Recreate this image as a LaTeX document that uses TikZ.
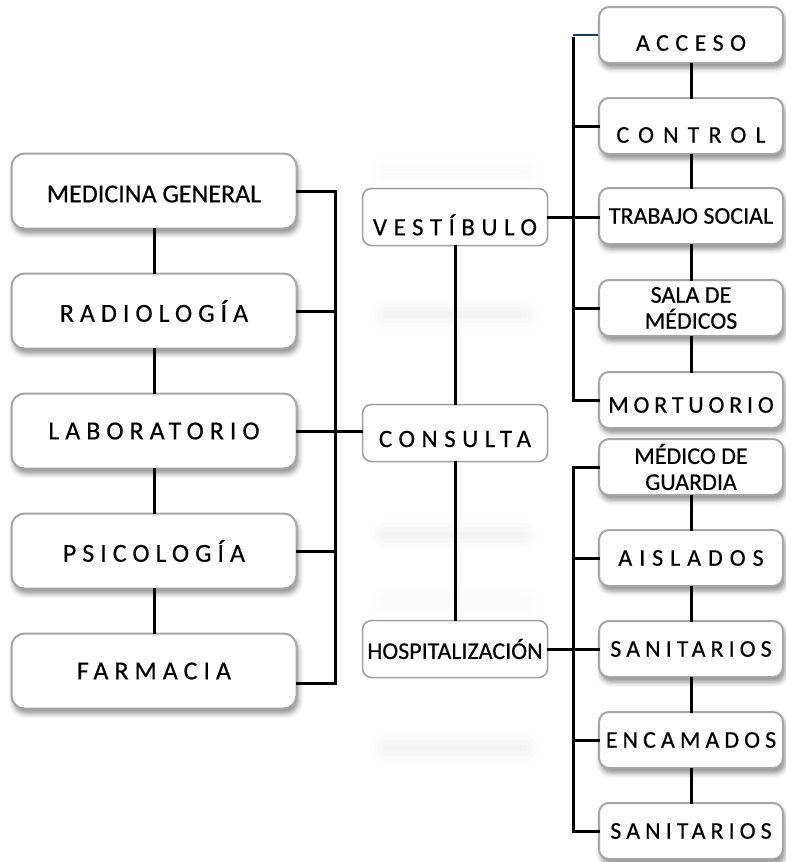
\documentclass[tikz,border=0pt]{standalone}
\usepackage{fontspec}
\setmainfont{Carlito}[UprightFeatures={FakeBold=0.4}]
\usetikzlibrary{shadows.blur,calc}
\definecolor{navy}{RGB}{31,56,100}

\newcommand{\spc}[2][23]{{\addfontfeatures{LetterSpace=#1}#2}}
\newcommand{\low}[2]{\raisebox{-#1}[\height][\depth]{#2}}

\begin{document}
\begin{tikzpicture}[x=1pt,y=-1pt,
    area/.style={draw=gray!70, line width=2pt, fill=white, inner sep=2pt,
      blur shadow={shadow xshift=2pt, shadow yshift=-5pt, shadow blur radius=5pt, shadow opacity=45}},
    lbox/.style={area, rounded corners=13pt, minimum width=285pt, minimum height=75pt,
      font=\fontsize{26}{30}\selectfont},
    mbox/.style={draw=gray!75, line width=1.5pt, fill=white, rounded corners=9pt,
      minimum width=185pt, minimum height=57pt, inner sep=2pt, font=\fontsize{25}{30}\selectfont},
    rbox/.style={area, rounded corners=10pt, minimum width=184pt, minimum height=56pt,
      font=\fontsize{24}{26}\selectfont},
    link/.style={line width=3pt, line cap=rect},
    ghost/.style={blur shadow={shadow xshift=0pt, shadow yshift=0pt, shadow blur radius=16pt, shadow opacity=#1}}]
    \useasboundingbox (0,0) rectangle (785,862);

    % faint bands in the middle column
    \foreach \y/\o in {172/4,315/9,535/9,602/4,748/9}
      \path[ghost=\o] (385,\y-1) rectangle (525,\y+1);

    % left column
    \node[lbox] (med) at (154,191) {\low{3pt}{MEDICINA GENERAL}};
    \node[lbox] (rad) at (154,311) {\spc{RADIOLOGÍA}};
    \node[lbox] (lab) at (154,431) {\spc{LABORATORIO}};
    \node[lbox] (psi) at (154,551) {\spc{PSICOLOGÍA}};
    \node[lbox] (far) at (154,671) {\spc{FARMACIA}};

    % middle column
    \node[mbox] (ves) at (455,217) {\low{8pt}{\spc[26]{VESTÍBULO}}};
    \node[mbox] (con) at (455,433) {\low{6pt}{\spc[26]{CONSULTA}}};
    \node[mbox, font=\fontsize{24}{26}\selectfont] (hos) at (455,649) {HOSPITALIZACIÓN};

    % right column
    \node[rbox] (acc) at (691,35) {\low{8pt}{\spc[27]{ACCESO}}};
    \node[rbox] (ctl) at (691,126) {\low{9pt}{\spc[38]{CONTROL}}};
    \node[rbox] (tra) at (691,216) {TRABAJO SOCIAL};
    \node[rbox, align=center] (sal) at (691,308) {SALA DE\\MÉDICOS};
    \node[rbox] (mor) at (691,400) {\low{5pt}{\spc[20]{MORTUORIO}}};
    \node[rbox, align=center] (gua) at (691,467) {MÉDICO DE\\GUARDIA};
    \node[rbox] (ais) at (691,558) {\spc[29]{AISLADOS}};
    \node[rbox] (san1) at (691,649) {\spc[21]{SANITARIOS}};
    \node[rbox] (enc) at (691,740) {\spc[21]{ENCAMADOS}};
    \node[rbox] (san2) at (691,831) {\spc[21]{SANITARIOS}};

    % chains
    \foreach \a/\b in {med/rad,rad/lab,lab/psi,psi/far,ves/con,con/hos,
        acc/ctl,ctl/tra,tra/sal,sal/mor,gua/ais,ais/san1,san1/enc,enc/san2}
      \draw[link] (\a.south) -- (\b.north);

    % left bus
    \coordinate (lbus) at (335,0);
    \coordinate (farc) at ([yshift=-12pt]far.east);
    \foreach \n in {med,rad,psi}
      \draw[link] (\n.east) -- (\n.east -| lbus);
    \draw[link] (farc) -- (farc -| lbus);
    \draw[link] (med.east -| lbus) -- (farc -| lbus);
    \draw[link] (lab.east) -- (lab.east -| con.west);

    % right buses
    \coordinate (rbus) at (573,0);
    \draw[line width=2pt, navy] (acc.west) -- (acc.west -| rbus);
    \foreach \n in {ctl,sal,mor,gua,ais,enc,san2}
      \draw[link] (\n.west) -- (\n.west -| rbus);
    \draw[link] ([yshift=-3pt]acc.west -| rbus) -- (mor.west -| rbus);
    \draw[link] (gua.west -| rbus) -- (san2.west -| rbus);
    \draw[link] (ves.east) -- (ves.east -| tra.west);
    \draw[link] (hos.east) -- (hos.east -| san1.west);
\end{tikzpicture}
\end{document}
